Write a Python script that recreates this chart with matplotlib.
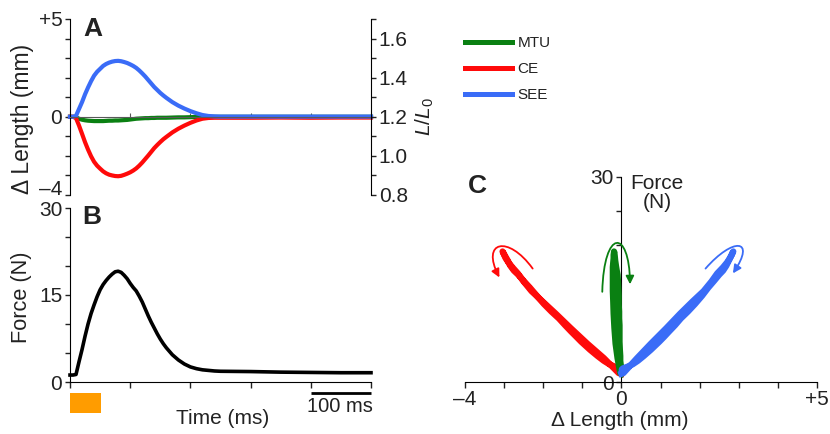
import matplotlib as mpl

mpl.use('Agg')

import matplotlib.pyplot as plt
import matplotlib.transforms as mtransforms
from matplotlib.patches import Rectangle, FancyArrowPatch
from matplotlib.path import Path
from matplotlib.lines import Line2D

plt.rcParams['font.family'] = 'Liberation Sans'
plt.rcParams['mathtext.fontset'] = 'custom'
plt.rcParams['mathtext.it'] = 'Liberation Sans:italic'
plt.rcParams['mathtext.rm'] = 'Liberation Sans'

TXT = '#222222'
GREEN = '#0a8012'
RED = '#ff0a0a'
BLUE = '#3a6cf7'
ORANGE = '#ff9c00'

# values
time_ms = [0, 5, 10, 15, 20, 25, 30, 35, 40, 45, 50, 55, 60, 65, 70, 75, 80,
           85, 90, 95, 100, 105, 110, 115, 120, 125, 130, 135, 140, 145,
           150, 155, 160,
           170, 180, 190, 200, 210, 220, 230, 240, 250,
           300, 350, 400, 450, 500]
force_n = [1.2, 1.2, 1.3, 3.5, 5.6, 7.9, 10.0, 11.8, 13.3, 14.7, 15.9, 16.8,
           17.5, 18.1, 18.6, 19.0, 19.1, 18.9, 18.4, 17.8, 17.0, 16.3, 15.7,
           14.8, 13.8, 12.6, 11.4, 10.3, 9.3, 8.3, 7.4, 6.6, 5.9,
           4.7, 3.8, 3.1, 2.6, 2.3, 2.1, 2.0, 1.9, 1.85,
           1.8, 1.7, 1.65, 1.6, 1.6]
mtu_mm = [0, 0, -0.03, -0.1, -0.15, -0.18, -0.2, -0.21, -0.22, -0.22, -0.22,
          -0.22, -0.21, -0.2, -0.2, -0.19, -0.19, -0.18, -0.17, -0.16, -0.14,
          -0.12, -0.1, -0.09, -0.08, -0.07, -0.07, -0.06, -0.06, -0.05,
          -0.05, -0.05, -0.05,
          -0.04, -0.03, -0.03, -0.02, -0.01, -0.01, 0, 0, 0,
          0, 0, 0, 0, 0]
ce_mm = [0, 0, -0.07, -0.45, -0.87, -1.3, -1.68, -2.02, -2.3, -2.5, -2.65,
         -2.79, -2.89, -2.96, -3.0, -3.03, -3.04, -3.02, -2.97, -2.91, -2.84,
         -2.75, -2.64, -2.5, -2.34, -2.16, -1.98, -1.79, -1.6, -1.44, -1.29,
         -1.15, -1.03,
         -0.8, -0.61, -0.45, -0.31, -0.19, -0.1, -0.06, -0.05, -0.05,
         -0.05, -0.04, -0.05, -0.04, -0.04]
see_mm = [0, 0, 0.05, 0.4, 0.75, 1.15, 1.5, 1.82, 2.1, 2.3, 2.45, 2.6, 2.7,
          2.77, 2.82, 2.85, 2.86, 2.84, 2.8, 2.75, 2.68, 2.6, 2.5, 2.37,
          2.22, 2.06, 1.88, 1.7, 1.52, 1.37, 1.22, 1.09, 0.97,
          0.75, 0.57, 0.42, 0.29, 0.18, 0.09, 0.04, 0.02, 0.01,
          0.01, 0.01, 0.01, 0.01, 0.01]
stim_ms = (0, 52)
scale_ms = (400, 500)

W, H = 830, 434


def box(l, t, r, b):
    return [l / W, 1 - b / H, (r - l) / W, (b - t) / H]


def fpos(x, y):
    return (x / W, 1 - y / H)


fig = plt.figure(figsize=(W / 100, H / 100), dpi=100)

tick_kw = dict(length=3.5, width=1, colors=TXT, labelsize=15, pad=2)

# ---- A: length changes
axA = fig.add_axes(box(70, 19, 371, 195))
axA.set_xlim(0, 500)
axA.set_ylim(-4, 5)
axA.spines['top'].set_visible(False)
axA.spines['right'].set_visible(False)
axA.spines['bottom'].set_position(('data', 0))
axA.spines['bottom'].set_color('0.35')
axA.set_yticks(range(-4, 6))
axA.set_yticklabels(['\u20134', '', '', '', '0', '', '', '', '', '+5'])
axA.tick_params(axis='y', direction='out', **tick_kw)
axA.get_yticklabels()[0].set_va('baseline')
axA.set_xticks(range(0, 501, 100))
axA.tick_params(axis='x', direction='in', length=3, colors='0.35',
                labelbottom=False)

axA.plot(time_ms, mtu_mm, color=GREEN, lw=3, clip_on=False)
axA.plot(time_ms, ce_mm, color=RED, lw=3, clip_on=False)
axA.plot(time_ms, see_mm, color=BLUE, lw=3, clip_on=False)

axR = axA.twinx()
axR.set_ylim(0.8, 1.7)
for s in ['top', 'left', 'bottom']:
    axR.spines[s].set_visible(False)
axR.set_yticks([0.8, 1.0, 1.2, 1.4, 1.6])
axR.set_yticks([0.9, 1.1, 1.3, 1.5, 1.7], minor=True)
axR.tick_params(axis='y', which='both', direction='out', **tick_kw)

fig.text(*fpos(425, 117), '$L/L_0$', rotation=90, fontsize=15, color=TXT,
         ha='center', va='center')
fig.text(*fpos(22, 119), '\u0394 Length (mm)', rotation=90, fontsize=16.5,
         color=TXT, ha='center', va='center')
fig.text(*fpos(93, 29), 'A', fontsize=19, fontweight='bold', color=TXT,
         ha='center', va='center')

handles = [Line2D([], [], color=c, lw=3.6) for c in (GREEN, RED, BLUE)]
fig.legend(handles, ['MTU', 'CE', 'SEE'], loc='upper left',
           bbox_to_anchor=fpos(465, 36), frameon=False, fontsize=11,
           handlelength=3.1, handletextpad=0.35, labelspacing=0.8,
           borderpad=0, borderaxespad=0, labelcolor=TXT)

# ---- B: force
axB = fig.add_axes(box(70, 208, 371, 382))
axB.set_xlim(0, 500)
axB.set_ylim(0, 30)
axB.spines['top'].set_visible(False)
axB.spines['right'].set_visible(False)
axB.set_yticks(range(0, 31, 5))
axB.set_yticklabels(['0', '', '', '15', '', '', '30'])
axB.set_xticks(range(0, 501, 100))
axB.tick_params(axis='both', direction='out', **tick_kw)
axB.tick_params(axis='x', labelbottom=False, length=4)
axB.plot(time_ms, force_n, color='black', lw=2.6, clip_on=False)

trB = mtransforms.blended_transform_factory(axB.transData, axB.transAxes)
axB.add_patch(Rectangle((stim_ms[0], -0.178), stim_ms[1] - stim_ms[0], 0.115,
                        transform=trB, color=ORANGE, clip_on=False, lw=0))
axB.plot(scale_ms, [-0.065, -0.065], transform=trB, color='black', lw=2,
         clip_on=False, solid_capstyle='butt')
fig.text(*fpos(340, 407), '100 ms', fontsize=14.5, color=TXT,
         ha='center', va='center')
fig.text(*fpos(223, 418), 'Time (ms)', fontsize=15, color=TXT,
         ha='center', va='center')
fig.text(*fpos(22, 297), 'Force (N)', rotation=90, fontsize=15.7,
         color=TXT, ha='center', va='center')
fig.text(*fpos(92, 217), 'B', fontsize=19, fontweight='bold', color=TXT,
         ha='center', va='center')

# ---- C: force vs length
axC = fig.add_axes(box(465, 177, 817, 382))
axC.set_xlim(-4, 5)
axC.set_ylim(0, 30)
axC.spines['top'].set_visible(False)
axC.spines['right'].set_visible(False)
axC.spines['left'].set_position(('data', 0))
axC.set_xticks(range(-4, 6))
axC.set_xticklabels(['\u20134', '', '', '', '0', '', '', '', '', '+5'])
axC.set_yticks(range(0, 31, 5))
axC.set_yticklabels(['0', '', '', '', '', '', '30'])
axC.tick_params(axis='both', direction='out', **tick_kw)
axC.tick_params(axis='x', length=4, pad=2)

axC.plot(ce_mm, force_n, color=RED, lw=4.5, zorder=3, clip_on=False)
axC.plot(mtu_mm, force_n, color=GREEN, lw=4.5, zorder=3, clip_on=False)
axC.plot(see_mm, force_n, color=BLUE, lw=4.5, zorder=3, clip_on=False)

arrows = [
    (RED, [(-2.27, 16.6), (-2.9, 21.6), (-3.6, 20.6), (-3.12, 15.3)]),
    (GREEN, [(-0.49, 13.2), (-0.45, 22.5), (0.2, 22.5), (0.22, 14.3)]),
    (BLUE, [(2.15, 16.6), (2.85, 21.2), (3.45, 21.0), (2.85, 15.9)]),
]
for col, pts in arrows:
    p = Path(pts, [Path.MOVETO, Path.CURVE4, Path.CURVE4, Path.CURVE4])
    axC.add_patch(FancyArrowPatch(path=p, arrowstyle='-|>', mutation_scale=12,
                                  color=col, lw=1.3, zorder=4))

fig.text(*fpos(657, 193), 'Force\n(N)', fontsize=15, color=TXT,
         ha='center', va='center', multialignment='center', linespacing=1.05)
fig.text(*fpos(620, 421), '\u0394 Length (mm)', fontsize=15, color=TXT,
         ha='center', va='center')
fig.text(*fpos(477, 186), 'C', fontsize=19, fontweight='bold', color=TXT,
         ha='center', va='center')

fig.savefig('out.png', dpi=100)
